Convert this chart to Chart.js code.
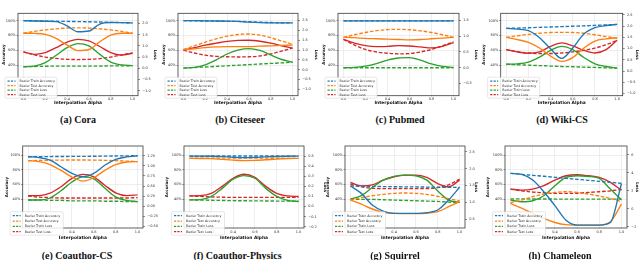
<!DOCTYPE html>
<html><head><meta charset="utf-8">
<script src="https://cdn.jsdelivr.net/npm/chart.js@4.4.1/dist/chart.umd.min.js"></script>
<style>
html,body{margin:0;padding:0;background:#fff;}
body{width:640px;height:260px;position:relative;overflow:hidden;}
canvas{position:absolute;}
.cap{position:absolute;font-family:"Liberation Serif","DejaVu Serif",serif;font-weight:bold;font-size:10px;color:#111;white-space:nowrap;transform:translate(-50%,-50%);line-height:1;}
</style></head><body>
<script>
// ---------- data ----------
const alphas = [0, 0.1, 0.2, 0.3, 0.4, 0.5, 0.6, 0.7, 0.8, 0.9, 1.0];
const xTickValues = [0, 0.2, 0.4, 0.6, 0.8, 1.0];
const accTickValues = [40, 60, 80, 100];
const seriesNames = ['Linear Train Accuracy', 'Bezier Train Accuracy', 'Linear Test Accuracy', 'Bezier Test Accuracy',
                     'Linear Train Loss', 'Bezier Train Loss', 'Linear Test Loss', 'Bezier Test Loss'];
const panelTitles = ['(a) Cora', '(b) Citeseer', '(c) Pubmed', '(d) Wiki-CS',
                     '(e) Coauthor-CS', '(f) Coauthor-Physics', '(g) Squirrel', '(h) Chameleon'];

// Cora
const coraLinTrainAcc  = [100, 99.6, 99.3, 98.8, 93, 85, 86, 95.5, 97.5, 97.3, 97];
const coraBezTrainAcc  = [100, 99.8, 99.5, 99.2, 99, 98.8, 98.5, 98.2, 97.8, 97.4, 97];
const coraLinTestAcc   = [83, 82.8, 81.5, 76, 67, 59.5, 61, 71.5, 80.5, 83, 83];
const coraBezTestAcc   = [83, 85.5, 87.5, 89, 90, 90.3, 90, 89, 87.5, 85.5, 83];
const coraLinTrainLoss = [0.07, 0.1, 0.25, 0.58, 0.92, 1.1, 1.0, 0.62, 0.28, 0.15, 0.12];
const coraBezTrainLoss = [0.07, 0.08, 0.09, 0.1, 0.1, 0.1, 0.1, 0.1, 0.11, 0.11, 0.12];
const coraLinTestLoss  = [0.73, 0.62, 0.7, 0.92, 1.17, 1.29, 1.22, 0.97, 0.7, 0.59, 0.67];
const coraBezTestLoss  = [0.73, 0.6, 0.5, 0.44, 0.4, 0.39, 0.4, 0.43, 0.5, 0.6, 0.68];
const coraLossTicks    = [-1, -0.5, 0, 0.5, 1, 1.5, 2];

// Citeseer
const citeLinTrainAcc  = [100, 100, 99.8, 99.6, 99.4, 99, 98, 97.3, 97, 97, 97];
const citeBezTrainAcc  = [100, 99.8, 99.6, 99.4, 99.2, 99, 98.6, 98, 97.5, 97.2, 97];
const citeLinTestAcc   = [60.5, 62, 63.5, 64.5, 65, 65, 65, 65.5, 66, 66.5, 67];
const citeBezTestAcc   = [61, 66, 71, 75.5, 79, 81.3, 82, 80.5, 77, 72.5, 68];
const citeLinTrainLoss = [0.085, 0.12, 0.25, 0.5, 0.8, 1.0, 1.07, 0.98, 0.75, 0.52, 0.39];
const citeBezTrainLoss = [0.085, 0.11, 0.14, 0.17, 0.2, 0.23, 0.26, 0.29, 0.32, 0.35, 0.38];
const citeLinTestLoss  = [1.0, 1.12, 1.25, 1.35, 1.44, 1.49, 1.5, 1.45, 1.35, 1.22, 1.1];
const citeBezTestLoss  = [1.0, 0.85, 0.74, 0.68, 0.66, 0.65, 0.66, 0.7, 0.8, 0.95, 1.1];
const citeLossTicks    = [-1, -0.5, 0, 0.5, 1, 1.5, 2, 2.5];

// Pubmed
const pubLinTrainAcc  = [99.8, 99.8, 99.8, 99.7, 99.7, 99.7, 99.7, 99.7, 99.7, 99.8, 99.8];
const pubBezTrainAcc  = [99.8, 99.8, 99.8, 99.8, 99.8, 99.8, 99.8, 99.8, 99.8, 99.8, 99.8];
const pubLinTestAcc   = [77.5, 77, 76, 75.5, 75, 74.5, 74, 74.5, 75.5, 76.5, 77.5];
const pubBezTestAcc   = [77.5, 81, 84, 86.5, 88, 88.3, 87.8, 86.3, 84, 81, 77.5];
const pubLinTrainLoss = [0.0, 0.01, 0.05, 0.13, 0.24, 0.31, 0.32, 0.24, 0.12, 0.04, 0.01];
const pubBezTrainLoss = [0.0, 0.0, 0.0, 0.0, 0.0, 0.0, 0.0, 0.0, 0.0, 0.0, 0.0];
const pubLinTestLoss  = [0.9, 0.78, 0.7, 0.67, 0.68, 0.7, 0.69, 0.66, 0.63, 0.68, 0.8];
const pubBezTestLoss  = [0.9, 0.72, 0.58, 0.5, 0.46, 0.44, 0.45, 0.5, 0.58, 0.7, 0.82];
const pubLossTicks    = [-0.5, 0, 0.5, 1, 1.5];

// Wiki-CS
const wikiLinTrainAcc  = [89.6, 88.5, 86.5, 77, 62, 49, 63, 82, 90.5, 93.5, 95];
const wikiBezTrainAcc  = [89.6, 90, 90.5, 91, 91.5, 92, 92.5, 93, 93.7, 94.3, 95];
const wikiLinTestAcc   = [77.4, 74.5, 70.5, 63, 52, 45, 50, 63, 72.5, 75.5, 77];
const wikiBezTestAcc   = [77.4, 79.5, 81.5, 83, 84, 84.2, 84, 83, 81, 78.5, 76];
const wikiLinTrainLoss = [0.3, 0.32, 0.4, 0.62, 0.92, 1.1, 0.95, 0.6, 0.32, 0.2, 0.13];
const wikiBezTrainLoss = [0.3, 0.28, 0.26, 0.24, 0.22, 0.2, 0.19, 0.17, 0.16, 0.14, 0.13];
const wikiLinTestLoss  = [0.95, 0.85, 0.79, 0.85, 1.1, 1.25, 1.12, 0.92, 0.8, 0.95, 1.37];
const wikiBezTestLoss  = [0.95, 0.86, 0.8, 0.78, 0.78, 0.8, 0.85, 0.92, 1.02, 1.17, 1.37];
const wikiLossTicks    = [-1, -0.5, 0, 0.5, 1, 1.5, 2, 2.5];

// Coauthor-CS
const csLinTrainAcc  = [97.7, 96.5, 93, 84, 75, 70.5, 75, 86, 94, 97.5, 99];
const csBezTrainAcc  = [97.7, 97.8, 97.9, 98, 98.1, 98.2, 98.3, 98.5, 98.7, 98.9, 99];
const csLinTestAcc   = [92.3, 91, 87, 79, 70, 64.5, 69, 79, 87, 90.5, 91];
const csBezTestAcc   = [92.3, 92.6, 92.9, 93.1, 93.2, 93.2, 93.1, 92.8, 92.3, 91.7, 91];
const csLinTrainLoss = [0.15, 0.15, 0.2, 0.38, 0.6, 0.73, 0.68, 0.45, 0.23, 0.14, 0.11];
const csBezTrainLoss = [0.15, 0.15, 0.14, 0.14, 0.13, 0.13, 0.13, 0.12, 0.12, 0.11, 0.11];
const csLinTestLoss  = [0.26, 0.26, 0.32, 0.48, 0.69, 0.79, 0.73, 0.52, 0.33, 0.26, 0.28];
const csBezTestLoss  = [0.25, 0.22, 0.21, 0.2, 0.2, 0.2, 0.2, 0.2, 0.2, 0.2, 0.21];
const csLossTicks    = [-0.5, -0.25, 0, 0.25, 0.5, 0.75, 1, 1.25];

// Coauthor-Physics
const phyLinTrainAcc  = [98.5, 98.5, 98.3, 97.8, 97, 96.5, 96.8, 97.5, 98, 98.3, 98.5];
const phyBezTrainAcc  = [98.5, 98.5, 98.6, 98.6, 98.6, 98.6, 98.6, 98.6, 98.6, 98.5, 98.5];
const phyLinTestAcc   = [95.5, 95.3, 95, 94, 93, 92.4, 92.6, 93.5, 94.5, 95.2, 95.5];
const phyBezTestAcc   = [95.5, 95.6, 95.7, 95.8, 95.8, 95.8, 95.8, 95.7, 95.6, 95.5, 95.5];
const phyLinTrainLoss = [0.066, 0.068, 0.1, 0.18, 0.27, 0.307, 0.28, 0.18, 0.1, 0.06, 0.05];
const phyBezTrainLoss = [0.066, 0.064, 0.062, 0.06, 0.058, 0.057, 0.056, 0.055, 0.054, 0.053, 0.052];
const phyLinTestLoss  = [0.106, 0.108, 0.13, 0.2, 0.28, 0.32, 0.29, 0.2, 0.13, 0.105, 0.1];
const phyBezTestLoss  = [0.105, 0.1, 0.095, 0.092, 0.09, 0.09, 0.09, 0.09, 0.09, 0.09, 0.09];
const phyLossTicks    = [-0.2, -0.1, 0, 0.1, 0.2, 0.3, 0.4, 0.5];

// Squirrel
const sqLinTrainAcc  = [57.7, 47.7, 31.8, 23.6, 20.5, 20.5, 20.5, 21.4, 25, 38.6, 56];
const sqBezTrainAcc  = [57.7, 57.5, 57.3, 57, 56.8, 56.6, 56.5, 56.3, 56.2, 56, 55.9];
const sqLinTestAcc   = [38.6, 33, 26.4, 21.8, 20.5, 20, 20, 20.5, 22.7, 29.5, 36.4];
const sqBezTestAcc   = [38.6, 41.8, 44.5, 46.4, 47.7, 48.2, 47.7, 46.4, 43.6, 40.5, 37.3];
const sqLinTrainLoss = [1.1, 1.2, 1.44, 1.66, 1.77, 1.81, 1.79, 1.66, 1.34, 1.07, 1.0];
const sqBezTrainLoss = [1.1, 1.09, 1.09, 1.08, 1.07, 1.06, 1.05, 1.04, 1.03, 1.01, 1.0];
const sqLinTestLoss  = [1.59, 1.49, 1.52, 1.66, 1.76, 1.81, 1.81, 1.74, 1.56, 1.46, 1.66];
const sqBezTestLoss  = [1.54, 1.46, 1.42, 1.41, 1.41, 1.41, 1.41, 1.41, 1.44, 1.52, 1.69];
const sqLossTicks    = [0.5, 1, 1.5, 2, 2.5];

// Chameleon
const chLinTrainAcc  = [75, 73.5, 66, 50, 31, 11, 4.5, 4.5, 4.5, 8, 61];
const chBezTrainAcc  = [75, 73.6, 72.3, 71, 69.6, 68.2, 66.9, 65.5, 64.1, 62.8, 61.4];
const chLinTestAcc   = [34, 27.5, 20.5, 13.5, 8, 5, 4.5, 4.5, 4.5, 9, 33];
const chBezTestAcc   = [35, 38.6, 43.2, 46.8, 49, 50, 49, 46.8, 44, 40.9, 36.4];
const chLinTrainLoss = [0.97, 0.78, 0.89, 1.45, 2.57, 3.49, 3.68, 3.6, 3.38, 2.19, 1.0];
const chBezTrainLoss = [1.1, 1.1, 1.09, 1.09, 1.08, 1.08, 1.08, 1.08, 1.08, 1.08, 1.08];
const chLinTestLoss  = [2.19, 2.08, 2.19, 2.57, 3.2, 3.68, 3.79, 3.68, 3.49, 2.94, 2.08];
const chBezTestLoss  = [2.19, 2.0, 1.86, 1.78, 1.71, 1.71, 1.73, 1.82, 1.9, 2.0, 2.16];
const chLossTicks    = [-2, 0, 2, 4, 6];

// ---------- layout / style ----------
const colors = ['#1f77b4', '#ff7f0e', '#2ca02c', '#d62728'];
const FAM = '"DejaVu Sans", "Liberation Sans", sans-serif';
Chart.defaults.font.family = FAM;

const panels = [
  {series:[coraLinTrainAcc, coraBezTrainAcc, coraLinTestAcc, coraBezTestAcc, coraLinTrainLoss, coraBezTrainLoss, coraLinTestLoss, coraBezTestLoss],
   lossTicks: coraLossTicks, dec:1, acc:[-1.5,110], loss:[-1.22,2.45],
   x:0, y:0, w:160, h:106, frame:[18,138,13.3,95.7], accT:4, lossT:155, cap:[78,120], row:0},
  {series:[citeLinTrainAcc, citeBezTrainAcc, citeLinTestAcc, citeBezTestAcc, citeLinTrainLoss, citeBezTrainLoss, citeLinTestLoss, citeBezTestLoss],
   lossTicks: citeLossTicks, dec:1, acc:[-1.5,110], loss:[-1.32,2.87],
   x:160, y:0, w:160, h:106, frame:[18,138,13.3,95.7], accT:4, lossT:156, cap:[80,120], row:0},
  {series:[pubLinTrainAcc, pubBezTrainAcc, pubLinTestAcc, pubBezTestAcc, pubLinTrainLoss, pubBezTrainLoss, pubLinTestLoss, pubBezTestLoss],
   lossTicks: pubLossTicks, dec:1, acc:[-1.5,110], loss:[-0.89,1.73],
   x:320, y:0, w:160, h:106, frame:[18,139,13.3,95.7], accT:4, lossT:156, cap:[80,120], row:0},
  {series:[wikiLinTrainAcc, wikiBezTrainAcc, wikiLinTestAcc, wikiBezTestAcc, wikiLinTrainLoss, wikiBezTrainLoss, wikiLinTestLoss, wikiBezTestLoss],
   lossTicks: wikiLossTicks, dec:1, acc:[-1.5,110], loss:[-1.1,2.57],
   x:480, y:0, w:160, h:106, frame:[20.7,142.7,13.3,95.7], accT:4, lossT:156.7, cap:[82,120], row:0},
  {series:[csLinTrainAcc, csBezTrainAcc, csLinTestAcc, csBezTestAcc, csLinTrainLoss, csBezTrainLoss, csLinTestLoss, csBezTestLoss],
   lossTicks: csLossTicks, dec:2, acc:[0.5,112.3], loss:[-0.55,1.5],
   x:0, y:130, w:160, h:110, frame:[22.7,143,16,98], accT:6.7, lossT:null, cap:[77,126], row:1},
  {series:[phyLinTrainAcc, phyBezTrainAcc, phyLinTestAcc, phyBezTestAcc, phyLinTrainLoss, phyBezTrainLoss, phyLinTestLoss, phyBezTestLoss],
   lossTicks: phyLossTicks, dec:1, acc:[0.5,112.3], loss:[-0.213,0.6],
   x:160, y:130, w:168, h:110, frame:[24,144,16,98], accT:7.3, lossT:165.5, cap:[77.5,126], row:1},
  {series:[sqLinTrainAcc, sqBezTrainAcc, sqLinTestAcc, sqBezTestAcc, sqLinTrainLoss, sqBezTrainLoss, sqLinTestLoss, sqBezTestLoss],
   lossTicks: sqLossTicks, dec:1, acc:[0.5,112.3], loss:[0.244,2.67],
   x:320, y:130, w:160, h:110, frame:[25,145,16,98], accT:8.3, lossT:156, cap:[75,126], row:1},
  {series:[chLinTrainAcc, chBezTrainAcc, chLinTestAcc, chBezTestAcc, chLinTrainLoss, chBezTrainLoss, chLinTestLoss, chBezTestLoss],
   lossTicks: chLossTicks, dec:0, acc:[0.5,112.3], loss:[-2.15,7.0],
   x:480, y:130, w:160, h:110, frame:[25,147,16,98], accT:8.3, lossT:156.7, cap:[80,126], row:1}
];

const framePlugin = {
  id: 'frameBox',
  afterDatasetsDraw(chart) {
    const {ctx, chartArea: a} = chart;
    ctx.save();
    ctx.strokeStyle = '#3a3a3a';
    ctx.lineWidth = 0.8;
    ctx.strokeRect(a.left, a.top, a.right - a.left, a.bottom - a.top);
    ctx.restore();
  }
};

const insideLegend = {
  id: 'insideLegend',
  afterDraw(chart, args, o) {
    const {ctx, chartArea: a} = chart;
    const L = a.left + o.dx, T = a.bottom + o.dy, W = o.w, H = o.h;
    ctx.save();
    ctx.fillStyle = 'rgba(255,255,255,0.85)';
    ctx.strokeStyle = '#cfcfcf';
    ctx.lineWidth = 0.5;
    ctx.beginPath();
    ctx.roundRect(L, T, W, H, 1.2);
    ctx.fill();
    ctx.stroke();
    const items = chart.data.datasets.filter(d => d.inLegend);
    const gap = (H - 7.5) / 3;
    items.forEach((d, i) => {
      const yy = T + 4 + i * gap;
      ctx.strokeStyle = d.borderColor;
      ctx.lineWidth = 1.3;
      ctx.setLineDash([2.2, 1.2]);
      ctx.beginPath();
      ctx.moveTo(L + 2.5, yy);
      ctx.lineTo(L + 10.5, yy);
      ctx.stroke();
      ctx.setLineDash([]);
      ctx.fillStyle = '#333';
      ctx.font = '3.3px ' + FAM;
      ctx.textBaseline = 'middle';
      ctx.textAlign = 'left';
      ctx.fillText(d.label, L + 14.5, yy);
    });
    ctx.restore();
  }
};

function fmtLoss(v, dec) {
  const s = Math.abs(v).toFixed(dec);
  return (v < -1e-9 ? '\u2212' : '') + s;
}

panels.forEach((p, k) => {
  const cv = document.createElement('canvas');
  cv.width = p.w; cv.height = p.h;
  cv.style.left = p.x + 'px'; cv.style.top = p.y + 'px';
  cv.style.width = p.w + 'px'; cv.style.height = p.h + 'px';
  document.body.appendChild(cv);

  const cap = document.createElement('div');
  cap.className = 'cap';
  cap.textContent = panelTitles[k];
  cap.style.left = (p.x + p.cap[0]) + 'px';
  cap.style.top = (p.y + p.cap[1]) + 'px';
  document.body.appendChild(cap);

  const [fl, fr, ft, fb] = p.frame;
  const datasets = p.series.map((arr, i) => ({
    label: seriesNames[i],
    inLegend: i % 2 === 1,
    data: alphas.map((a, j) => ({x: a, y: arr[j]})),
    yAxisID: i < 4 ? 'yAcc' : 'yLoss',
    borderColor: colors[i >> 1],
    backgroundColor: colors[i >> 1],
    borderDash: i % 2 ? [3.6, 1.8] : [],
    borderWidth: 1.35,
    pointRadius: 0,
    cubicInterpolationMode: 'monotone',
    fill: false
  }));
  const lineH = 1.2;
  const tickFont = {size: 3.5, family: FAM};
  new Chart(cv, {
    type: 'line',
    data: {datasets},
    options: {
      responsive: false, animation: false, devicePixelRatio: 1,
      layout: {padding: {top: ft, left: 0, right: 0, bottom: 0}},
      plugins: {
        legend: {display: false}, tooltip: {enabled: false},
        insideLegend: p.row === 0 ? {dx: -13, dy: -18.5, w: 52, h: 21} : {dx: -12.5, dy: -16.3, w: 53, h: 23.5}
      },
      scales: {
        x: {
          type: 'linear', min: -0.05, max: 1.05,
          afterBuildTicks: s => { s.ticks = xTickValues.map(v => ({value: v})); },
          afterFit: s => { s.height = p.h - fb; },
          ticks: {callback: v => Number(v).toFixed(1), font: tickFont, color: '#333', padding: p.row === 0 ? 0.3 : 1, maxRotation: 0, autoSkip: false},
          grid: {color: '#e2e2e2', lineWidth: 0.6, tickLength: 1, tickColor: '#bbb'},
          border: {display: false},
          title: {display: true, text: 'Interpolation Alpha', color: '#111',
                  font: {size: 4.4, weight: 'bold', family: FAM, lineHeight: lineH},
                  padding: {top: 0, bottom: p.row === 0 ? 0.9 : 0}}
        },
        yAcc: {
          type: 'linear', position: 'left', min: p.acc[0], max: p.acc[1],
          afterBuildTicks: s => { s.ticks = accTickValues.map(v => ({value: v})); },
          afterFit: s => { s.width = fl; },
          ticks: {callback: v => v + '%', font: tickFont, color: '#333', padding: 0.8},
          grid: {color: '#e2e2e2', lineWidth: 0.6, tickLength: 1.5, tickColor: '#444'},
          border: {display: false},
          title: {display: true, text: 'Accuracy', color: '#111',
                  font: {size: 4, weight: 'bold', family: FAM, lineHeight: lineH},
                  padding: {top: p.accT - 2.4, bottom: 0}}
        },
        yLoss: {
          type: 'linear', position: 'right', min: p.loss[0], max: p.loss[1],
          afterBuildTicks: s => { s.ticks = p.lossTicks.map(v => ({value: v})); },
          afterFit: s => { s.width = p.w - fr; },
          ticks: {callback: v => fmtLoss(v, p.dec), font: tickFont, color: '#333', padding: 2.2},
          grid: {drawOnChartArea: false, tickLength: 2, tickColor: '#444', lineWidth: 0.6},
          border: {display: false},
          title: {display: p.lossT !== null, text: 'Loss', color: '#111',
                  font: {size: 4, weight: 'bold', family: FAM, lineHeight: lineH},
                  padding: {top: p.lossT !== null ? Math.max(0, p.w - p.lossT - 2.4) : 0, bottom: 0}}
        }
      }
    },
    plugins: [framePlugin, insideLegend]
  });
});
</script>
</body></html>
